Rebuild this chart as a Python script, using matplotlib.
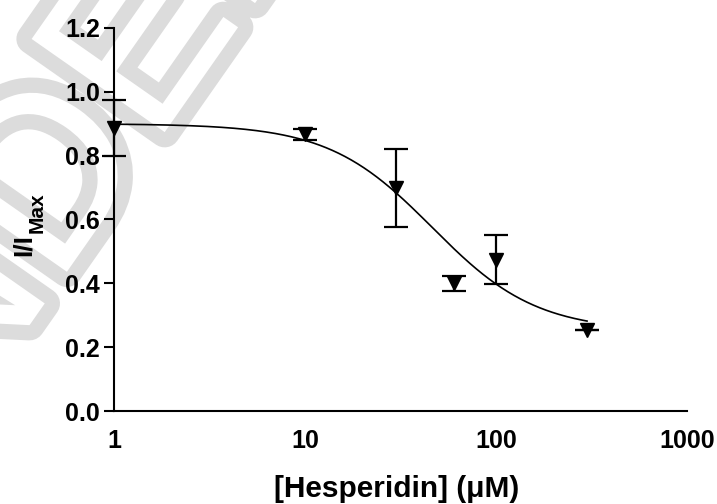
import numpy as np
import matplotlib
matplotlib.use("Agg")
import matplotlib.pyplot as plt
import matplotlib.patheffects as pe

# ---- data ----
conc = [1, 10, 30, 60, 100, 300]                     # [Hesperidin] (uM)
response = [0.887, 0.867, 0.698, 0.400, 0.474, 0.254]  # I/Imax
sem = [0.087, 0.018, 0.123, 0.024, 0.076, 0.0]
x_ticks = [1, 10, 100, 1000]
x_tick_labels = ["1", "10", "100", "1000"]
y_ticks = [0.0, 0.2, 0.4, 0.6, 0.8, 1.0, 1.2]
y_tick_labels = ["0.0", "0.2", "0.4", "0.6", "0.8", "1.0", "1.2"]

# fitted sigmoidal dose-response parameters
fit_top = 0.90
fit_bottom = 0.25
fit_ic50 = 46.4
fit_hill = 1.59

plt.rcParams['font.family'] = ['Liberation Sans', 'DejaVu Sans']
plt.rcParams['font.weight'] = 'bold'

fig = plt.figure(figsize=(7.17, 5.04), dpi=100)

# watermark (hollow outlined letters)
fig.text(-0.195, -0.125, "UNDER REVIEW", rotation=55, rotation_mode='anchor',
         ha='left', va='baseline', fontsize=170, fontweight='normal',
         color='white', zorder=-10, family='Liberation Sans',
         path_effects=[pe.Stroke(linewidth=22, foreground='#dcdcdc'), pe.Normal()])

ax = fig.add_axes([0.159, 0.1845, 0.799, 0.760])
ax.patch.set_alpha(0)
ax.set_zorder(1)

ax.set_xscale('log')
ax.set_xlim(1, 1000)
ax.set_ylim(0, 1.2)

# fitted curve
xc = np.logspace(np.log10(conc[0]), np.log10(conc[-1]), 300)
yc = fit_bottom + (fit_top - fit_bottom) / (1 + (xc / fit_ic50) ** fit_hill)
ax.plot(xc, yc, color='black', lw=1.2, zorder=3, clip_on=False)

ax.errorbar(conc, response, yerr=sem, fmt='none', ecolor='black',
            elinewidth=1.6, capsize=8.5, capthick=1.6, zorder=4, clip_on=False)
ax.plot(conc, response, 'v', color='black', ms=9.5, zorder=5, clip_on=False)

for s in ['top', 'right']:
    ax.spines[s].set_visible(False)
for s in ['left', 'bottom']:
    ax.spines[s].set_linewidth(1.5)

ax.set_xticks(x_ticks)
ax.set_xticklabels(x_tick_labels)
ax.xaxis.set_minor_locator(matplotlib.ticker.NullLocator())
ax.set_yticks(y_ticks)
ax.set_yticklabels(y_tick_labels)
ax.tick_params(axis='x', length=0, pad=13, labelsize=18)
ax.tick_params(axis='y', length=7, width=1.5, pad=3, labelsize=18)
for lab in ax.get_xticklabels() + ax.get_yticklabels():
    lab.set_fontweight('bold')

fig.text(397 / 717, 1 - 497 / 504, "[Hesperidin] (μM)", ha='center',
         va='baseline', fontsize=21.5, fontweight='bold', zorder=2)
fig.text(31 / 717, 1 - 256 / 504, "I/I", rotation=90, rotation_mode='anchor',
         ha='left', va='baseline', fontsize=19, fontweight='bold', zorder=2)
fig.text(43 / 717, 1 - 233 / 504, "Max", rotation=90, rotation_mode='anchor',
         ha='left', va='baseline', fontsize=15, fontweight='bold', zorder=2)

fig.savefig('out.png', dpi=100)
